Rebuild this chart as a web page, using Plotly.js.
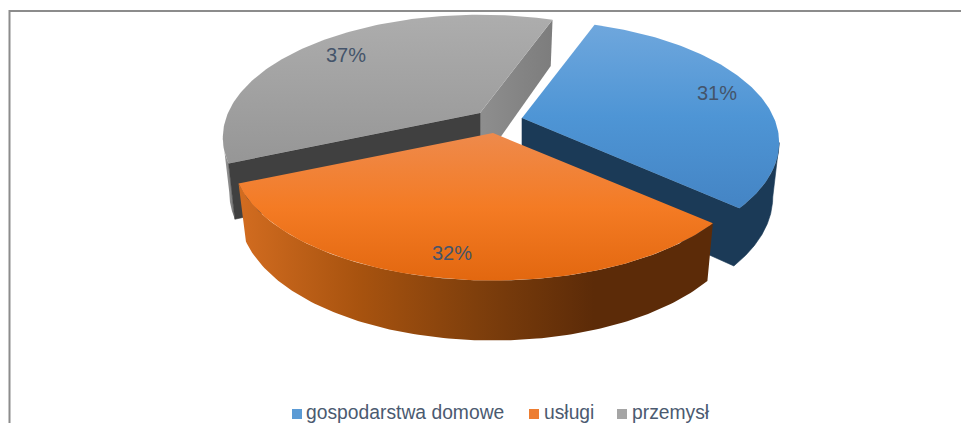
<!DOCTYPE html>
<html>
<head>
<meta charset="utf-8">
<script src="https://cdn.plot.ly/plotly-3.0.1.min.js"></script>
<style>html,body{margin:0;padding:0;background:#fff;overflow:hidden}#c{width:961px;height:423px}</style>
</head>
<body>
<div id="c"></div>
<script>
// Data
var categories = ['gospodarstwa domowe', 'usługi', 'przemysł'];
var shares = [31, 32, 37];
var legendColors = ['#5b9bd5', '#ed7d31', '#a5a5a5'];

// 3D projection settings (pixel-scaled axes)
var START_DEG = 20, RY = 118, PERSP = 0.2, SHRINK = 0.975;
var radii = [252, 255, 252];
var apexes = [[522, 118], [493, 133], [480, 113]];
var labelPos = [[717, 95], [452, 255], [346, 57]];
var markerPos = [[297, 414], [534, 414], [622, 414]];
var legendTextPos = [[306, 414], [544, 414], [632, 414]];

function proj(i, deg, bottom) {
  var apex = apexes[i], R = radii[i];
  var t = deg * Math.PI / 180, X = Math.sin(t), Y = Math.cos(t), s = 1 / (1 + PERSP * Y);
  var x = R * X * s, y = -RY * Y * s;
  if (bottom) { x *= SHRINK; y += 53 - 7 * Y; }
  return [apex[0] + x, apex[1] + y];
}
function arc(i, a0, a1, bottom) {
  var pts = [], n = 120;
  for (var k = 0; k <= n; k++) pts.push(proj(i, a0 + (a1 - a0) * k / n, bottom));
  return pts;
}
function poly(pts, fill) {
  var xs = pts.map(function (p) { return p[0]; }), ys = pts.map(function (p) { return p[1]; });
  xs.push(pts[0][0]); ys.push(pts[0][1]);
  var tr = { x: xs, y: ys, mode: 'lines', fill: 'toself', line: { width: 0 }, hoverinfo: 'skip', showlegend: false };
  if (typeof fill === 'string') { tr.fillcolor = fill; tr.line = { width: 0.6, color: fill }; }
  else tr.fillgradient = fill;
  return tr;
}
function grad(type, start, stop, colors) {
  return { type: type, start: start, stop: stop,
    colorscale: colors.map(function (c, k) { return [k / (colors.length - 1), c]; }) };
}

// Slice angles from the values
var total = shares.reduce(function (a, b) { return a + b; }, 0), acc = START_DEG, angles = [];
shares.forEach(function (v) { angles.push([acc, acc + v / total * 360]); acc += v / total * 360; });

// Angles of the rim's silhouette (rightmost and leftmost points of the projected circle)
var SIL_RIGHT = Math.acos(-PERSP) * 180 / Math.PI, SIL_LEFT = 360 - SIL_RIGHT;

var traces = [];
function wallFace(i, a0, a1, fill) {
  var upper = arc(i, a0, a1, false), lower = arc(i, a0, a1, true);
  traces.push(poly(upper.concat(lower.reverse()), fill));
}
function wallAndCut(i, a0, a1, fill) {
  var a = apexes[i], upper = arc(i, a0, a1, false), lower = arc(i, a0, a1, true);
  traces.push(poly(upper.concat([a, [a[0], a[1] + 53]], lower.reverse()), fill));
}
function cutFace(i, deg, fill) {
  var a = apexes[i];
  traces.push(poly([a, proj(i, deg, false), proj(i, deg, true), [a[0], a[1] + 53]], fill));
}
function topFace(i, fill) {
  traces.push(poly([apexes[i]].concat(arc(i, angles[i][0], angles[i][1], false)), fill));
}

// Gray (back), blue, orange (front)
wallFace(2, angles[2][0], SIL_LEFT, grad('horizontal', 222, 240, ['#9a9a9a', '#6f6f6f']));
cutFace(2, angles[2][1] % 360, grad('horizontal', 480, 555, ['#8e8e8e', '#7c7c7c']));
cutFace(2, angles[2][0], '#404040');
topFace(2, grad('vertical', 15, 190, ['#adadad', '#929292']));

wallAndCut(0, SIL_RIGHT, angles[0][1], '#1b3a57');
topFace(0, grad('vertical', 24, 210, ['#6fa7dd', '#4e95d5', '#4484c4']));

wallFace(1, angles[1][0], angles[1][1], grad('horizontal', 240, 712, ['#d26c20', '#a8530f', '#7f3f0c', '#5c2b08', '#5c2b08']));
topFace(1, grad('vertical', 133, 282, ['#ee8a4c', '#f47b24', '#e2670f']));

// Percent labels
traces.push({
  x: labelPos.map(function (p) { return p[0]; }), y: labelPos.map(function (p) { return p[1]; }),
  text: shares.map(function (v) { return v + '%'; }), mode: 'text', textposition: 'middle center',
  textfont: { family: 'Liberation Sans, Arial, sans-serif', size: 20, color: '#44546a' },
  hoverinfo: 'skip', showlegend: false
});
// Legend entries
categories.forEach(function (name, i) {
  traces.push({
    x: [markerPos[i][0]], y: [markerPos[i][1]], name: name, mode: 'markers', cliponaxis: false,
    marker: { symbol: 'square', size: 10, color: legendColors[i] },
    hoverinfo: 'skip', showlegend: false
  });
  traces.push({
    x: [legendTextPos[i][0]], y: [legendTextPos[i][1]], text: [name], name: name,
    mode: 'text', textposition: 'middle right', cliponaxis: false,
    textfont: { family: 'Liberation Sans, Arial, sans-serif', size: 19.3, color: '#4b5a70' },
    hoverinfo: 'skip', showlegend: false
  });
});

var layout = {
  width: 961, height: 423, margin: { l: 0, r: 0, t: 0, b: 0 },
  paper_bgcolor: '#fff', plot_bgcolor: '#fff', showlegend: false,
  xaxis: { range: [0, 961], visible: false, fixedrange: true },
  yaxis: { range: [423, 0], visible: false, fixedrange: true },
  shapes: [
    { type: 'line', xref: 'x', yref: 'y', x0: 9, x1: 961, y0: 11, y1: 11, line: { color: '#8c8c8c', width: 2 } },
    { type: 'line', xref: 'x', yref: 'y', x0: 9.5, x1: 9.5, y0: 10, y1: 423, line: { color: '#8c8c8c', width: 2 } }
  ]
};
Plotly.newPlot('c', traces, layout, { displayModeBar: false, staticPlot: true });
</script>
</body>
</html>
